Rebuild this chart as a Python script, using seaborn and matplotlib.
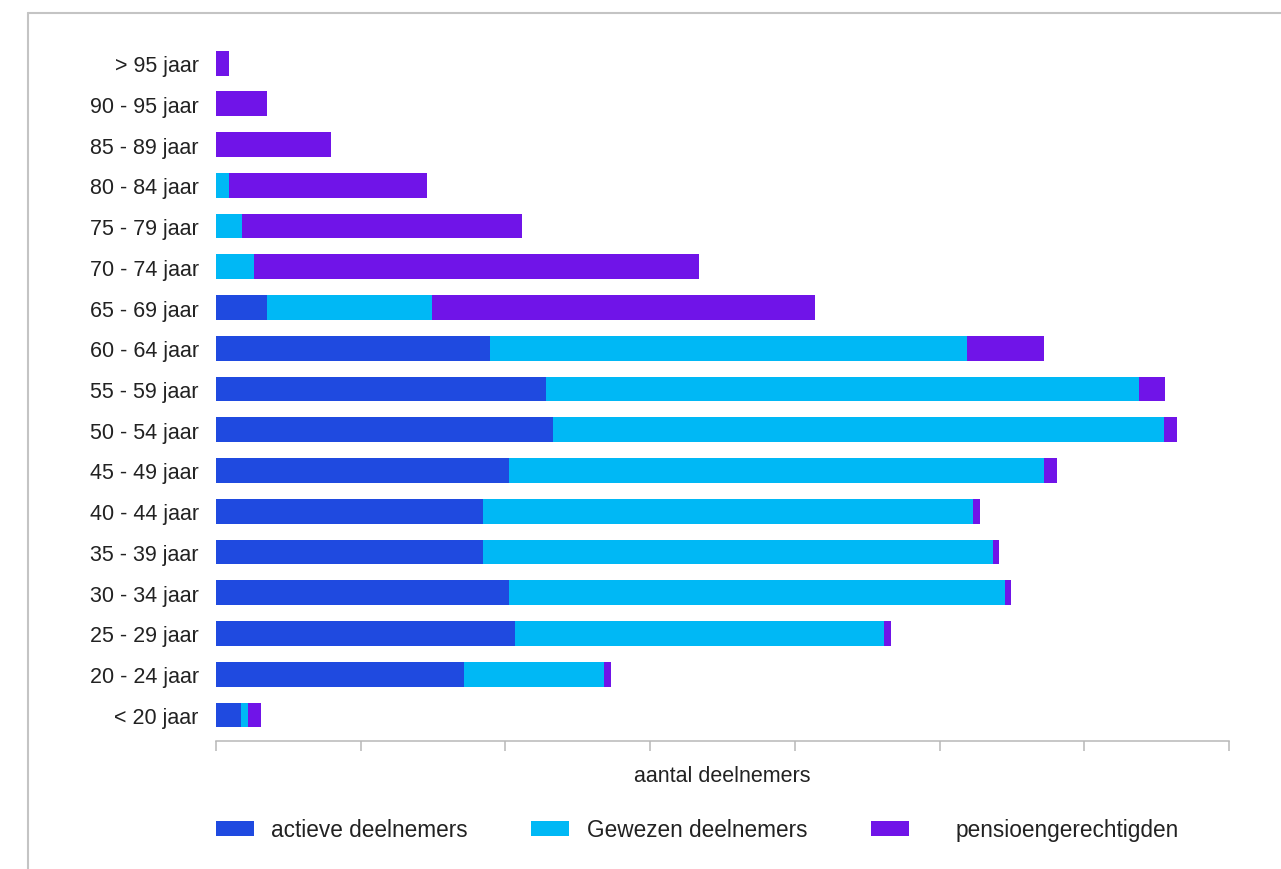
import matplotlib
matplotlib.use("Agg")
import matplotlib.pyplot as plt
from matplotlib.lines import Line2D
from matplotlib.patches import Patch
import numpy as np
import pandas as pd
import seaborn as sns

# Age groups, oldest at the top
leeftijd = [
    "> 95 jaar", "90 - 95 jaar", "85 - 89 jaar", "80 - 84 jaar", "75 - 79 jaar",
    "70 - 74 jaar", "65 - 69 jaar", "60 - 64 jaar", "55 - 59 jaar", "50 - 54 jaar",
    "45 - 49 jaar", "40 - 44 jaar", "35 - 39 jaar", "30 - 34 jaar", "25 - 29 jaar",
    "20 - 24 jaar", "< 20 jaar",
]
actief = [0, 0, 0, 0, 0, 0, 353, 1895, 2282, 2331, 2026, 1846, 1846, 2026, 2068, 1715, 173]
gewezen = [0, 0, 0, 90, 180, 263, 1141, 3292, 4094, 4219, 3693, 3382, 3520, 3423, 2545, 968, 48]
pensioen = [90, 353, 795, 1369, 1936, 3077, 2642, 532, 180, 90, 90, 48, 48, 48, 48, 48, 90]

series_labels = ["actieve deelnemers", "Gewezen deelnemers", "pensioengerechtigden"]
kleuren = ["#1f4ae0", "#00b8f5", "#7014e8"]

df = pd.DataFrame({"leeftijd": leeftijd, "actief": actief,
                   "gewezen": gewezen, "pensioen": pensioen})
df["tot_gewezen"] = df["actief"] + df["gewezen"]
df["totaal"] = df["tot_gewezen"] + df["pensioen"]

sns.set_theme(style="white")
plt.rcParams["font.family"] = ["Liberation Sans", "DejaVu Sans"]
tekst = "#222222"
grijs = "#b8b8b8"

fig = plt.figure(figsize=(12.81, 8.70), dpi=100)
ax = fig.add_axes([216 / 1281, 1 - 742 / 870, (1229 - 216) / 1281, (742 - 38) / 870])

# Stacked bars: draw cumulative totals back to front
for col, kleur in zip(["totaal", "tot_gewezen", "actief"], kleuren[::-1]):
    sns.barplot(data=df, x=col, y="leeftijd", orient="h", color=kleur,
                saturation=1, width=0.61, ax=ax, linewidth=0)

ax.set_xlim(0, 7000)
ax.set_ylim(len(leeftijd) - 1 + 0.64, -0.64)
ax.set_xticks(np.arange(0, 7001, 1000))
ax.set_xticklabels([])
ax.tick_params(axis="x", bottom=True, length=7.5, width=1.1, color=grijs, direction="out")
ax.tick_params(axis="y", left=False, pad=6.5, labelsize=15.5, labelcolor=tekst)
for s in ["top", "right", "left"]:
    ax.spines[s].set_visible(False)
ax.spines["bottom"].set_color(grijs)
ax.spines["bottom"].set_linewidth(1.1)
ax.set_ylabel("")
ax.set_xlabel("aantal deelnemers", fontsize=15.5, color=tekst, labelpad=6)

# Legend entries placed individually along the bottom
fs = 16.3
em = fs * 100 / 72
pos = [(216, 17), (531, 18), (871, 47)]
for (px, gap), lab, kleur in zip(pos, series_labels, kleuren):
    fig.legend(handles=[Patch(facecolor=kleur, edgecolor="none")], labels=[lab],
               loc="center left", bbox_to_anchor=(px / 1281, 1 - 831 / 870),
               frameon=False, borderpad=0, borderaxespad=0, fontsize=fs,
               handlelength=38 / em, handleheight=14 / em, handletextpad=gap / em,
               labelcolor=tekst)

# Outer frame lines (top and left)
fig.add_artist(Line2D([28 / 1281, 1], [1 - 14 / 870, 1 - 14 / 870],
                      transform=fig.transFigure, color="#c4c4c4", linewidth=1.5))
fig.add_artist(Line2D([28 / 1281, 28 / 1281], [0, 1 - 14 / 870],
                      transform=fig.transFigure, color="#c4c4c4", linewidth=1.5))

fig.savefig("out.png", dpi=100)
